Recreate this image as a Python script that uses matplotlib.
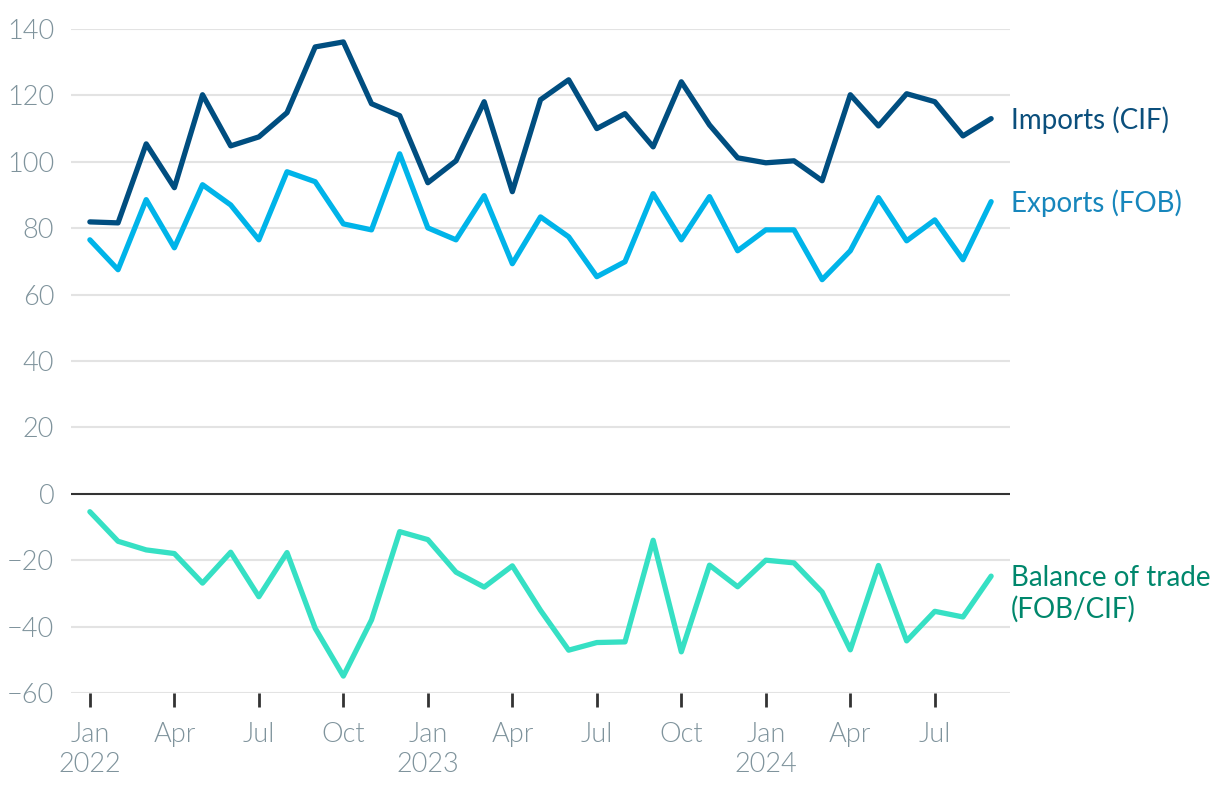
import numpy as np
import matplotlib.pyplot as plt
import matplotlib.transforms as mtransforms

# monthly values, Jan 2022 - Sep 2024
months = ['Jan', 'Feb', 'Mar', 'Apr', 'May', 'Jun', 'Jul', 'Aug', 'Sep', 'Oct', 'Nov', 'Dec']
years = [2022, 2023, 2024]

imports_cif = [81.9, 81.6, 105.4, 92.2, 120.2, 104.8, 107.5, 114.8, 134.6, 136.1, 117.5, 113.9,
               93.7, 100.3, 118.1, 91.0, 118.7, 124.7, 110.0, 114.5, 104.5, 124.1, 111.1, 101.2,
               99.7, 100.3, 94.3, 120.2, 110.8, 120.5, 118.1, 107.8, 113.0]
exports_fob = [76.5, 67.5, 88.6, 74.1, 93.1, 87.0, 76.5, 97.0, 94.0, 81.3, 79.5, 102.4,
               80.1, 76.5, 89.8, 69.3, 83.4, 77.4, 65.4, 69.9, 90.4, 76.5, 89.5, 73.2,
               79.5, 79.5, 64.5, 73.2, 89.2, 76.2, 82.5, 70.5, 88.0]
balance = [-5.4, -14.3, -16.9, -18.0, -26.9, -17.6, -31.0, -17.7, -40.5, -54.9, -38.0, -11.4,
           -13.8, -23.6, -28.1, -21.7, -35.1, -47.1, -44.8, -44.6, -14.0, -47.6, -21.5, -28.0,
           -20.0, -20.8, -29.6, -47.0, -21.6, -44.3, -35.4, -37.1, -24.8]

labels = ['Imports (CIF)', 'Exports (FOB)', 'Balance of trade\n(FOB/CIF)']
line_colors = ['#004e80', '#00b4e9', '#36e0c4']
text_colors = ['#0b4f7c', '#1786bc', '#00876c']

plt.rcParams['font.family'] = ['Lato', 'DejaVu Sans']

x = np.arange(len(imports_cif))
tick_pos = x[::3]
tick_lab = []
for i in tick_pos:
    m = months[i % 12]
    if m == 'Jan':
        tick_lab.append(m + '\n' + str(years[i // 12]))
    else:
        tick_lab.append(m)

fig = plt.figure(figsize=(12.2, 7.94), dpi=100)
ax = fig.add_axes([71 / 1220, 101 / 794, (1010 - 71) / 1220, (693 - 29) / 794])

for yv in range(-60, 141, 20):
    if yv != 0:
        ax.axhline(yv, color='#e3e3e3', lw=1.5, zorder=0)
ax.axhline(0, color='#333333', lw=1.5, zorder=1)

series = [imports_cif, exports_fob, balance]
for s, lab, lc, tc in zip(series, labels, line_colors, text_colors):
    ax.plot(x, s, color=lc, lw=3.8, solid_joinstyle='round', solid_capstyle='round', zorder=3,
            clip_on=False)
    if '\n' in lab:
        off = mtransforms.offset_copy(ax.transData, fig=fig, x=20, y=11, units='dots')
        ax.text(x[-1], s[-1], lab, transform=off, color=tc, fontsize=20, va='top',
                ha='left', linespacing=1.2)
    else:
        off = mtransforms.offset_copy(ax.transData, fig=fig, x=20, y=-2, units='dots')
        ax.text(x[-1], s[-1], lab, transform=off, color=tc, fontsize=20, va='center',
                ha='left')

ax.set_xlim(-0.67, 32.67)
ax.set_ylim(-60, 140)
ax.set_yticks(range(-60, 141, 20))
ax.set_yticklabels([str(v).replace('-', '\u2212') for v in range(-60, 141, 20)])
ax.set_xticks(tick_pos)
ax.set_xticklabels(tick_lab, linespacing=1.25)

for sp in ax.spines.values():
    sp.set_visible(False)
ax.tick_params(axis='y', length=0, pad=12, labelsize=19.5, labelcolor='#7f939c')
ax.tick_params(axis='x', length=10, width=2, color='#333333', pad=11, labelsize=19.5,
               labelcolor='#7f939c')
for t in ax.get_xticklabels() + ax.get_yticklabels():
    t.set_fontweight(300)

fig.savefig('out.png', dpi=100)
